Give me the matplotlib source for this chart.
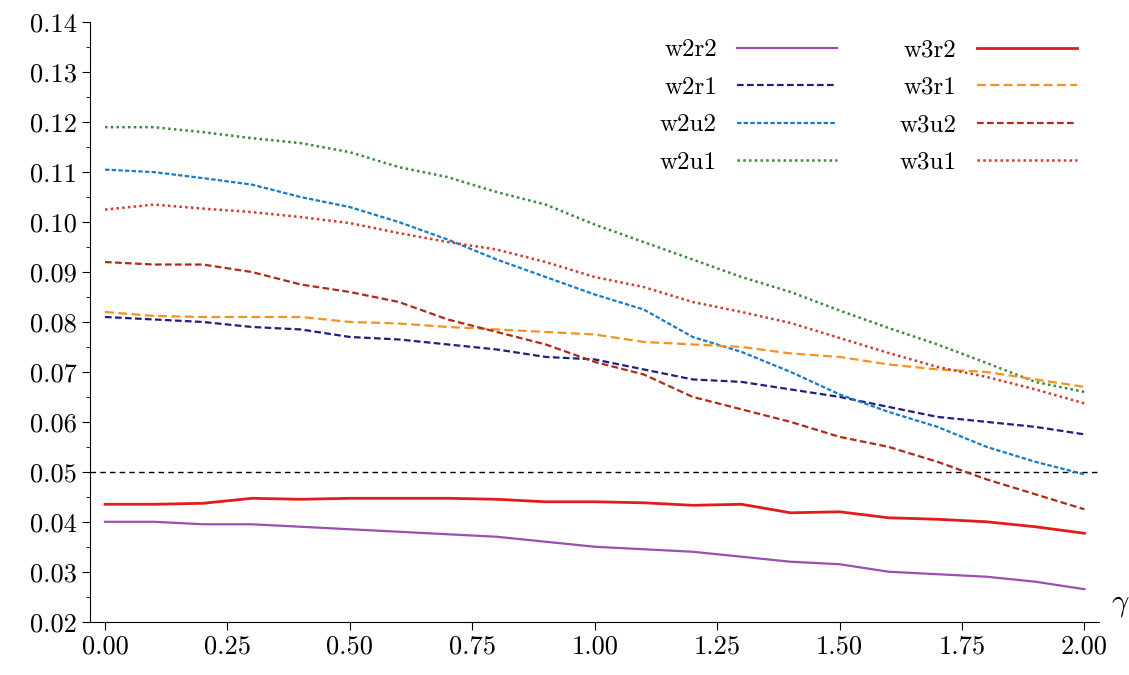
import matplotlib.pyplot as plt
from matplotlib.ticker import MultipleLocator

plt.rcParams["font.family"] = "cmr10"
plt.rcParams["mathtext.fontset"] = "cm"
plt.rcParams["axes.formatter.use_mathtext"] = True

gamma = [i / 10 for i in range(21)]

w2r2 = [0.040, 0.040, 0.0395, 0.0395, 0.039, 0.0385, 0.038, 0.0375, 0.037, 0.036, 0.035,
        0.0345, 0.034, 0.033, 0.032, 0.0315, 0.030, 0.0295, 0.029, 0.028, 0.0265]
w3r2 = [0.0435, 0.0435, 0.0437, 0.0447, 0.0445, 0.0447, 0.0447, 0.0447, 0.0445, 0.044, 0.044,
        0.0438, 0.0433, 0.0435, 0.0418, 0.042, 0.0408, 0.0405, 0.040, 0.039, 0.0377]
w2r1 = [0.081, 0.0805, 0.080, 0.079, 0.0785, 0.077, 0.0765, 0.0755, 0.0745, 0.073, 0.0725,
        0.0705, 0.0685, 0.068, 0.0665, 0.065, 0.063, 0.061, 0.060, 0.059, 0.0575]
w3r1 = [0.082, 0.0812, 0.081, 0.081, 0.081, 0.080, 0.0797, 0.079, 0.0785, 0.078, 0.0775,
        0.076, 0.0755, 0.075, 0.0737, 0.073, 0.0715, 0.0705, 0.070, 0.0685, 0.067]
w2u2 = [0.1105, 0.110, 0.1088, 0.1075, 0.105, 0.103, 0.100, 0.0965, 0.0925, 0.089, 0.0855,
        0.0825, 0.077, 0.074, 0.070, 0.0655, 0.062, 0.059, 0.055, 0.052, 0.0495]
w3u2 = [0.092, 0.0915, 0.0915, 0.090, 0.0875, 0.086, 0.084, 0.0805, 0.078, 0.0755, 0.072,
        0.0695, 0.065, 0.0625, 0.060, 0.057, 0.055, 0.052, 0.0485, 0.0455, 0.0425]
w2u1 = [0.119, 0.119, 0.118, 0.1168, 0.1158, 0.114, 0.111, 0.109, 0.106, 0.1035, 0.0995,
        0.096, 0.0925, 0.089, 0.086, 0.0823, 0.0788, 0.0755, 0.0718, 0.068, 0.066]
w3u1 = [0.1025, 0.1035, 0.1027, 0.102, 0.101, 0.0998, 0.0978, 0.096, 0.0945, 0.092, 0.089,
        0.087, 0.084, 0.082, 0.0798, 0.0768, 0.0738, 0.071, 0.069, 0.0665, 0.0637]

fig, ax = plt.subplots(figsize=(11.29, 6.75), dpi=100)
fig.subplots_adjust(left=0.08, right=0.9735, top=0.967, bottom=0.079)

ax.axhline(0.05, color="black", linestyle=(0, (4, 3)), linewidth=1)
ax.plot(gamma, w2r2, color="#9b4fb0", linewidth=1.6, label="w2r2")
ax.plot(gamma, w2r1, color="#1f1f80", linestyle=(0, (3, 1.5)), linewidth=1.6, label="w2r1")
ax.plot(gamma, w2u2, color="#1a7ac8", linestyle=(0, (2, 1)), linewidth=1.6, label="w2u2")
ax.plot(gamma, w2u1, color="#3a8a3a", linestyle=(0, (1, 1.3)), linewidth=1.8, label="w2u1")
ax.plot(gamma, w3r2, color="#e41a1c", linewidth=2, label="w3r2")
ax.plot(gamma, w3r1, color="#f5921e", linestyle=(0, (4, 2)), linewidth=1.6, label="w3r1")
ax.plot(gamma, w3u2, color="#b02a18", linestyle=(0, (3, 1.5)), linewidth=1.6, label="w3u2")
ax.plot(gamma, w3u1, color="#d23a2a", linestyle=(0, (1, 1.3)), linewidth=1.8, label="w3u1")

ax.set_xlim(-0.03, 2.03)
ax.set_ylim(0.02, 0.14)
ax.xaxis.set_major_locator(MultipleLocator(0.25))
ax.yaxis.set_major_locator(MultipleLocator(0.01))
ax.yaxis.set_minor_locator(MultipleLocator(0.005))
ax.xaxis.set_major_formatter(plt.FormatStrFormatter("%.2f"))
ax.yaxis.set_major_formatter(plt.FormatStrFormatter("%.2f"))
ax.tick_params(labelsize=19, direction="out", length=6)
ax.tick_params(which="minor", length=3)
ax.spines["top"].set_visible(False)
ax.spines["right"].set_visible(False)
ax.text(2.055, 0.0205, r"$\gamma$", fontsize=22, va="bottom")

ax.legend(ncol=2, frameon=False, markerfirst=False, fontsize=18, loc="upper right",
          handlelength=4, columnspacing=2.5, labelspacing=0.6, bbox_to_anchor=(1.0, 1.01))

fig.savefig("out.png")
